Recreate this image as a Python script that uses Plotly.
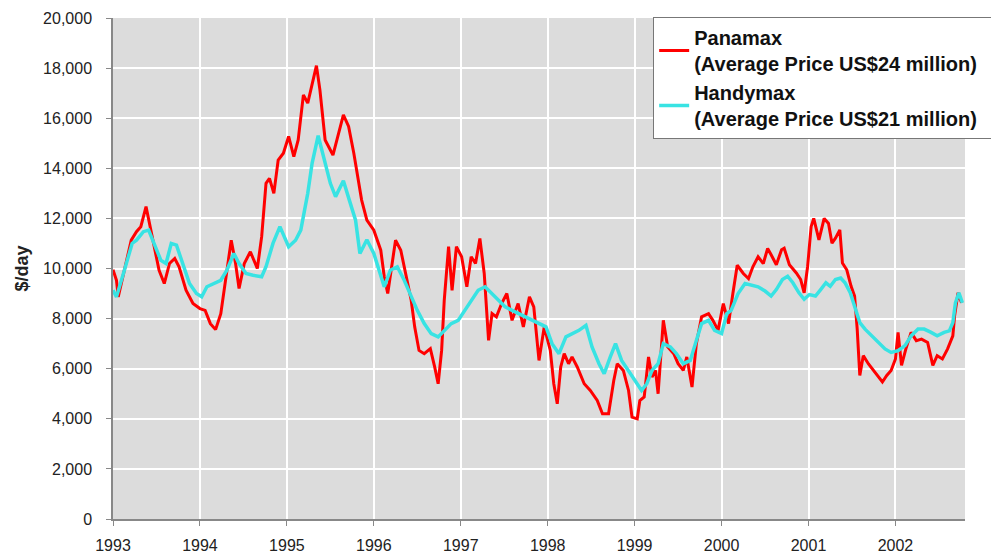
import plotly.graph_objects as go

# Panamax time charter rates ($/day)
panamax_year = [
    1993.00, 1993.04, 1993.06, 1993.21, 1993.27, 1993.32, 1993.38, 1993.45, 1993.53, 1993.59,
    1993.65, 1993.71, 1993.76, 1993.84, 1993.92, 1994.00, 1994.06, 1994.12, 1994.18, 1994.24,
    1994.29, 1994.36, 1994.41, 1994.45, 1994.51, 1994.58, 1994.66, 1994.71, 1994.76, 1994.80,
    1994.85, 1994.90, 1994.96, 1995.02, 1995.08, 1995.13, 1995.19, 1995.24, 1995.34, 1995.38,
    1995.44, 1995.53, 1995.65, 1995.71, 1995.77, 1995.83, 1995.86, 1995.92, 1996.00, 1996.08,
    1996.12, 1996.16, 1996.21, 1996.25, 1996.31, 1996.37, 1996.43, 1996.47, 1996.52, 1996.58,
    1996.65, 1996.70, 1996.74, 1996.78, 1996.81, 1996.86, 1996.90, 1996.95, 1997.01, 1997.07,
    1997.12, 1997.17, 1997.22, 1997.27, 1997.32, 1997.36, 1997.41, 1997.47, 1997.53, 1997.59,
    1997.66, 1997.72, 1997.79, 1997.84, 1997.90, 1997.96, 1998.03, 1998.07, 1998.11, 1998.15,
    1998.19, 1998.24, 1998.28, 1998.34, 1998.42, 1998.49, 1998.57, 1998.63, 1998.70, 1998.76,
    1998.80, 1998.87, 1998.93, 1998.97, 1999.03, 1999.06, 1999.11, 1999.16, 1999.20, 1999.24,
    1999.27, 1999.33, 1999.38, 1999.45, 1999.50, 1999.56, 1999.60, 1999.66, 1999.71, 1999.77,
    1999.85, 1999.90, 1999.96, 2000.02, 2000.08, 2000.13, 2000.18, 2000.25, 2000.31, 2000.36,
    2000.42, 2000.48, 2000.53, 2000.57, 2000.63, 2000.69, 2000.72, 2000.78, 2000.86, 2000.91,
    2000.95, 2000.99, 2001.03, 2001.06, 2001.12, 2001.18, 2001.23, 2001.27, 2001.31, 2001.36,
    2001.39, 2001.44, 2001.49, 2001.53, 2001.56, 2001.59, 2001.63, 2001.69, 2001.75, 2001.80,
    2001.85, 2001.90, 2001.95, 2002.00, 2002.03, 2002.07, 2002.12, 2002.18, 2002.24, 2002.30,
    2002.37, 2002.43, 2002.48, 2002.54, 2002.60, 2002.66, 2002.68, 2002.72, 2002.76,
]
panamax_rate = [
    9950, 9530, 8870, 11130, 11470, 11670, 12470, 11270, 9930, 9400,
    10200, 10400, 10070, 9130, 8600, 8400, 8330, 7800, 7560, 8200,
    9400, 11130, 10200, 9200, 10200, 10670, 10000, 11270, 13400, 13600,
    13000, 14330, 14600, 15270, 14470, 15130, 16930, 16600, 18100, 17130,
    15130, 14530, 16130, 15670, 14600, 13270, 12730, 11930, 11530, 10730,
    9670, 9000, 10200, 11130, 10730, 9670, 8730, 7670, 6730, 6600,
    6800, 6070, 5400, 6730, 8730, 10870, 9130, 10870, 10470, 9270,
    10470, 10200, 11200, 9800, 7130, 8200, 8070, 8600, 9000, 7930,
    8600, 7670, 8870, 8470, 6330, 7670, 6730, 5400, 4600, 6070,
    6600, 6200, 6470, 6070, 5400, 5130, 4730, 4200, 4200, 5530,
    6200, 5930, 5130, 4070, 4000, 4730, 4870, 6470, 5670, 5930,
    5000, 7930, 6870, 6600, 6200, 5930, 6470, 5270, 7000, 8070,
    8200, 7930, 7530, 8600, 7800, 9000, 10130, 9800, 9600, 10070,
    10470, 10200, 10800, 10550, 10150, 10750, 10810, 10150, 9820, 9560,
    9030, 10090, 11670, 12000, 11140, 12000, 11800, 11010, 11210, 11540,
    10220, 9950, 9290, 8900, 7580, 5730, 6520, 6190, 5930, 5730,
    5470, 5730, 5930, 6390, 7450, 6130, 6790, 7450, 7120, 7180,
    7050, 6130, 6520, 6390, 6790, 7310, 8100, 9030, 8630,
]

# Handymax time charter rates ($/day)
handymax_year = [
    1993.00, 1993.04, 1993.12, 1993.22, 1993.27, 1993.35, 1993.41, 1993.47, 1993.55, 1993.61,
    1993.67, 1993.73, 1993.80, 1993.88, 1993.96, 1994.02, 1994.08, 1994.16, 1994.24, 1994.31,
    1994.39, 1994.45, 1994.53, 1994.61, 1994.71, 1994.76, 1994.84, 1994.92, 1995.02, 1995.10,
    1995.16, 1995.24, 1995.29, 1995.36, 1995.44, 1995.50, 1995.56, 1995.65, 1995.73, 1995.79,
    1995.84, 1995.92, 1996.00, 1996.06, 1996.12, 1996.19, 1996.27, 1996.35, 1996.43, 1996.50,
    1996.58, 1996.66, 1996.74, 1996.81, 1996.89, 1996.97, 1997.05, 1997.12, 1997.20, 1997.28,
    1997.36, 1997.43, 1997.51, 1997.59, 1997.67, 1997.74, 1997.82, 1997.90, 1997.98, 1998.05,
    1998.13, 1998.21, 1998.28, 1998.36, 1998.44, 1998.51, 1998.59, 1998.65, 1998.72, 1998.78,
    1998.85, 1998.93, 1999.01, 1999.08, 1999.14, 1999.20, 1999.27, 1999.33, 1999.41, 1999.48,
    1999.56, 1999.64, 1999.71, 1999.77, 1999.85, 1999.92, 2000.00, 2000.06, 2000.11, 2000.19,
    2000.27, 2000.34, 2000.42, 2000.50, 2000.57, 2000.63, 2000.70, 2000.76, 2000.82, 2000.89,
    2000.95, 2001.01, 2001.08, 2001.14, 2001.20, 2001.25, 2001.31, 2001.37, 2001.42, 2001.48,
    2001.54, 2001.59, 2001.65, 2001.73, 2001.80, 2001.88, 2001.95, 2002.03, 2002.11, 2002.18,
    2002.26, 2002.33, 2002.41, 2002.48, 2002.56, 2002.62, 2002.66, 2002.69, 2002.73, 2002.77,
]
handymax_rate = [
    9130, 8870, 9800, 11000, 11130, 11470, 11530, 11000, 10330, 10200,
    11000, 10930, 10200, 9400, 9000, 8870, 9270, 9400, 9530, 9930,
    10600, 10200, 9800, 9730, 9670, 10070, 11000, 11670, 10870, 11130,
    11530, 13000, 14200, 15300, 14250, 13400, 12870, 13500, 12600, 11930,
    10600, 11150, 10600, 9930, 9270, 9930, 10070, 9530, 8870, 8330,
    7800, 7400, 7270, 7530, 7800, 7930, 8330, 8730, 9130, 9270,
    9000, 8730, 8470, 8330, 8200, 8070, 7930, 7800, 7670, 7000,
    6600, 7270, 7400, 7530, 7730, 6870, 6200, 5800, 6470, 7000,
    6330, 5930, 5530, 5130, 5400, 5930, 6200, 7000, 6870, 6600,
    6200, 6330, 7130, 7800, 7930, 7530, 7400, 8200, 8330, 9000,
    9400, 9330, 9270, 9100, 8900, 9160, 9560, 9690, 9430, 9030,
    8770, 8960, 8900, 9160, 9430, 9290, 9560, 9620, 9430, 9030,
    8370, 7840, 7580, 7310, 7050, 6790, 6650, 6720, 6920, 7310,
    7580, 7580, 7450, 7310, 7450, 7510, 7840, 8630, 9030, 8630,
]

year_ticks = list(range(1993, 2003))
rate_ticks = list(range(0, 20001, 2000))

fig = go.Figure()

fig.add_trace(go.Scatter(
    x=panamax_year, y=panamax_rate, mode="lines",
    name="Panamax<br>(Average Price US$24 million)&nbsp;&nbsp;&nbsp;",
    line=dict(color="#ff0000", width=3),
))
fig.add_trace(go.Scatter(
    x=handymax_year, y=handymax_rate, mode="lines",
    name="Handymax<br>(Average Price US$21 million)&nbsp;&nbsp;&nbsp;",
    line=dict(color="#38e3e3", width=3.5),
))

# the page puts the figure 8px in from the top-left corner, so margins allow for that
fig.update_layout(
    width=999, height=553,
    margin=dict(l=105, r=42, t=10, b=42, autoexpand=False),
    paper_bgcolor="white",
    plot_bgcolor="#dcdcdc",
    font=dict(family="Liberation Sans, Arial", size=16, color="#222"),
    showlegend=True,
    legend=dict(
        x=0.634, y=1.002, xanchor="left", yanchor="top",
        bgcolor="white", bordercolor="#777", borderwidth=1,
        font=dict(size=20, color="#111", family="Liberation Sans, Arial", weight="bold"),
        tracegroupgap=0, itemwidth=30,
    ),
)

fig.update_xaxes(
    range=[1993, 2002.8],
    tickvals=year_ticks,
    ticktext=[str(y) for y in year_ticks],
    showgrid=True, gridcolor="white", gridwidth=2,
    showline=True, linecolor="#888", linewidth=1.5,
    ticks="outside", ticklen=5, tickcolor="#888",
    ticklabelstandoff=6,
    zeroline=False,
)
fig.update_yaxes(
    range=[0, 20000],
    tickvals=rate_ticks,
    tickformat=",d",
    showgrid=True, gridcolor="white", gridwidth=2,
    showline=True, linecolor="#888", linewidth=1.5,
    ticks="outside", ticklen=5, tickcolor="#888",
    ticklabelstandoff=11,
    zeroline=False,
    title=dict(text="<b>$/day</b>", font=dict(size=18, color="#222"), standoff=10),
)

fig.write_html("out.html")
